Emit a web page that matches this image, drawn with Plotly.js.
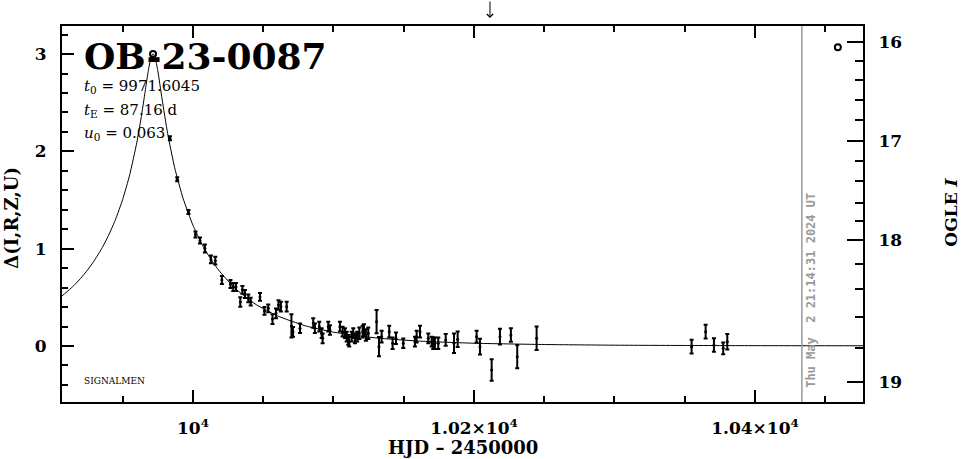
<!DOCTYPE html>
<html><head><meta charset="utf-8">
<script src="https://cdn.plot.ly/plotly-3.0.1.min.js"></script>
<style>html,body{margin:0;padding:0;background:#fff}</style>
</head><body><div id="chart" style="width:965px;height:459px"></div>
<script>
// ---- data ----
const hjd = [9983.6, 9988.8, 9996.8, 10001.8, 10005.0, 10008.5, 10012.8, 10015.9, 10020.6, 10026.7,
  10028.7, 10030.6, 10033.7, 10035.2, 10037.0, 10039.4, 10041.1, 10047.7, 10050.9, 10053.6,
  10056.6, 10059.1, 10060.9, 10062.6, 10066.7, 10070.1, 10071.2, 10076.2, 10085.6, 10086.8,
  10089.9, 10091.6, 10092.3, 10096.3, 10097.5, 10104.6, 10106.5, 10108.2, 10109.4, 10110.5,
  10111.2, 10113.0, 10114.1, 10115.3, 10116.9, 10118.4, 10120.8, 10121.7, 10123.1, 10124.8,
  10130.7, 10132.4, 10134.3, 10139.7, 10142.1, 10144.5, 10149.7, 10158.0, 10159.2, 10161.6,
  10167.5, 10169.9, 10171.0, 10172.2, 10174.6, 10179.9, 10185.8, 10188.4, 10201.9, 10204.3,
  10212.6, 10218.5, 10226.3, 10230.8, 10244.6, 10354.9, 10364.9, 10370.8, 10377.4, 10380.3];
const delta = [2.135, 1.713, 1.377, 1.146, 1.084, 1.002, 0.889, 0.877, 0.678, 0.637,
  0.606, 0.606, 0.452, 0.576, 0.534, 0.490, 0.455, 0.504, 0.360, 0.387,
  0.277, 0.336, 0.421, 0.404, 0.404, 0.206, 0.144, 0.182, 0.236, 0.182,
  0.198, 0.131, 0.079, 0.198, 0.164, 0.198, 0.147, 0.131, 0.096, 0.062,
  0.044, 0.096, 0.131, 0.079, 0.096, 0.131, 0.147, 0.164, 0.113, 0.131,
  0.250, -0.007, 0.096, 0.147, 0.028, 0.079, 0.028, 0.044, 0.096, 0.147,
  0.079, 0.044, 0.028, 0.028, 0.028, 0.062, 0.028, 0.069, 0.096, -0.007,
  -0.247, 0.096, 0.113, -0.110, 0.079, -0.007, 0.147, 0.010, -0.024, 0.044];
const deltaErr = [0.02, 0.02, 0.02, 0.03, 0.03, 0.04, 0.04, 0.04, 0.04, 0.04,
  0.04, 0.04, 0.05, 0.04, 0.04, 0.04, 0.04, 0.04, 0.04, 0.04,
  0.05, 0.05, 0.05, 0.05, 0.05, 0.12, 0.05, 0.05, 0.05, 0.05,
  0.05, 0.05, 0.05, 0.05, 0.05, 0.05, 0.05, 0.05, 0.05, 0.05,
  0.05, 0.05, 0.05, 0.05, 0.05, 0.06, 0.06, 0.06, 0.06, 0.06,
  0.12, 0.10, 0.06, 0.06, 0.06, 0.06, 0.05, 0.05, 0.06, 0.06,
  0.05, 0.05, 0.06, 0.06, 0.06, 0.06, 0.10, 0.08, 0.06, 0.08,
  0.11, 0.08, 0.07, 0.12, 0.12, 0.07, 0.07, 0.07, 0.06, 0.08];

// model curve
const modelHjd = [9900, 9906.8, 9915, 9920, 9925, 9930, 9935, 9940, 9945, 9950, 9955, 9960, 9963, 9966,
  9968, 9970, 9971.6, 9973, 9975, 9978, 9982, 9987, 9993, 10000, 10005, 10010, 10015, 10020,
  10030, 10037.5, 10045, 10060, 10080, 10100, 10130, 10160, 10200, 10250, 10300, 10350, 10400, 10480];
const modelDelta = [0.443, 0.514, 0.618, 0.694, 0.781, 0.882, 1.000, 1.138, 1.304, 1.507, 1.760, 2.088, 2.334, 2.618,
  2.809, 2.959, 3.003, 2.969, 2.828, 2.540, 2.183, 1.832, 1.516, 1.241, 1.086, 0.955, 0.844, 0.749,
  0.593, 0.502, 0.425, 0.310, 0.207, 0.142, 0.083, 0.051, 0.028, 0.015, 0.008, 0.005, 0.003, 0.002];

const circleHjd = [9971.6, 10459];
const circleDelta = [3.00, 3.07];

const xTickVals = [10000, 10200, 10400];
const xTickText = ['10<sup>4</sup>', '1.02\u00d710<sup>4</sup>', '1.04\u00d710<sup>4</sup>'];
const xMinorVals = [9950, 10050, 10100, 10150, 10250, 10300, 10350, 10450];
const yTickVals = [0, 1, 2, 3];
const yTickText = ['0', '1', '2', '3'];
const yMinorVals = [-0.4, -0.2, 0.2, 0.4, 0.6, 0.8, 1.2, 1.4, 1.6, 1.8, 2.2, 2.4, 2.6, 2.8, 3.2];
const magTickVals = [3.127, 2.110, 1.089, -0.370];
const magTickText = ['16', '17', '18', '19'];
const magMinorVals = [2.932, 2.734, 2.528, 2.323, 1.901, 1.691, 1.470, 1.285, 0.843, 0.586, 0.298, -0.021];

const dateLineHjd = 10433.4;
const arrowHjd = 10211.4;
const eventName = 'OB-23-0087';
const paramLines = ['<i>t</i><sub>0</sub> = 9971.6045', '<i>t</i><sub>E</sub> = 87.16 d', '<i>u</i><sub>0</sub> = 0.063'];
const dateText = 'Thu May\u00a0\u00a02 21:14:31 2024 UT';

const xRange = [9906.8, 10476.9];
const yRange = [-0.576, 3.289];

const serif = 'DejaVu Serif';
const traces = [
  {x: modelHjd, y: modelDelta, mode: 'lines', line: {color: '#000', width: 1, shape: 'spline', smoothing: 0.5}, hoverinfo: 'skip'},
  {x: hjd, y: delta, mode: 'markers', marker: {color: '#000', size: 3},
   error_y: {type: 'data', array: deltaErr, visible: true, color: '#000', thickness: 2, width: 2}},
  {x: circleHjd, y: circleDelta, mode: 'markers', marker: {symbol: 'circle-open', size: 6, color: '#000', line: {width: 2, color: '#000'}}},
  {x: [], y: [], yaxis: 'y2', mode: 'markers', hoverinfo: 'skip'}
];

const tickFont = {family: serif, size: 17, color: '#000', weight: 'bold'};
const ann = [
  {xref: 'paper', yref: 'paper', x: 0.025, y: 0.920, xanchor: 'left', yanchor: 'middle', showarrow: false,
   text: eventName, font: {family: serif, size: 36, weight: 'bold', color: '#000'}},
  {xref: 'paper', yref: 'paper', x: 0.025, y: 0.838, xanchor: 'left', yanchor: 'middle', showarrow: false,
   text: paramLines[0], font: {family: serif, size: 15, color: '#000'}},
  {xref: 'paper', yref: 'paper', x: 0.025, y: 0.774, xanchor: 'left', yanchor: 'middle', showarrow: false,
   text: paramLines[1], font: {family: serif, size: 15, color: '#000'}},
  {xref: 'paper', yref: 'paper', x: 0.025, y: 0.715, xanchor: 'left', yanchor: 'middle', showarrow: false,
   text: paramLines[2], font: {family: serif, size: 15, color: '#000'}},
  {xref: 'paper', yref: 'paper', x: 0.025, y: 0.056, xanchor: 'left', yanchor: 'middle', showarrow: false,
   text: 'SIGNALMEN', font: {family: serif, size: 9, color: '#000'}},
  {xref: 'x', yref: 'paper', x: dateLineHjd, xshift: 9, y: 0.298, xanchor: 'center', yanchor: 'middle', showarrow: false,
   textangle: -90, text: dateText, font: {family: 'DejaVu Sans Mono', size: 12, weight: 'bold', color: '#999'}},
  {xref: 'paper', yref: 'paper', x: 1.1105, y: 0.505, xanchor: 'center', yanchor: 'middle', showarrow: false,
   textangle: -90, text: 'OGLE <i>I</i>', font: {family: serif, size: 17, weight: 'bold', color: '#000'}},
  {xref: 'paper', yref: 'paper', x: -0.0624, y: 0.490, xanchor: 'center', yanchor: 'middle', showarrow: false,
   textangle: -90, text: '\u0394(I,R,Z,U)', font: {family: serif, size: 18, weight: 'bold', color: '#000'}},
  {xref: 'paper', yref: 'paper', x: 0.5, y: -0.122, xanchor: 'center', yanchor: 'middle', showarrow: false,
   text: 'HJD \u2013 2450000', font: {family: serif, size: 18, weight: 'bold', color: '#000'}},
  {xref: 'x', yref: 'paper', x: arrowHjd, y: 1.021, ax: 0, ay: -19, axref: 'pixel', ayref: 'pixel', text: '',
   showarrow: true, arrowhead: 4, arrowsize: 1.2, arrowwidth: 1, arrowcolor: '#000'}
];

const layout = {
  width: 965, height: 459,
  margin: {l: 62, r: 102, t: 26, b: 57, pad: 0},
  paper_bgcolor: '#fff', plot_bgcolor: '#fff', showlegend: false,
  font: {family: serif, color: '#000'},
  xaxis: {range: xRange, tickmode: 'array', tickvals: xTickVals, ticktext: xTickText,
    ticks: 'inside', ticklen: 12, tickwidth: 2, tickcolor: '#000',
    minor: {tickmode: 'array', tickvals: xMinorVals, ticks: 'inside', ticklen: 6, tickwidth: 2, tickcolor: '#000', showgrid: false},
    showline: true, linewidth: 2, linecolor: '#000', mirror: 'ticks', showgrid: false, zeroline: false,
    tickfont: tickFont, ticklabelstandoff: 10},
  yaxis: {range: yRange, tickmode: 'array', tickvals: yTickVals, ticktext: yTickText,
    ticks: 'inside', ticklen: 12, tickwidth: 2, tickcolor: '#000',
    minor: {tickmode: 'array', tickvals: yMinorVals, ticks: 'inside', ticklen: 6, tickwidth: 2, tickcolor: '#000', showgrid: false},
    showline: true, linewidth: 2, linecolor: '#000', mirror: false, showgrid: false, zeroline: false,
    tickfont: tickFont, ticklabelstandoff: 10},
  yaxis2: {range: yRange, overlaying: 'y', side: 'right', tickmode: 'array', tickvals: magTickVals, ticktext: magTickText,
    ticks: 'inside', ticklen: 16, tickwidth: 2, tickcolor: '#000',
    minor: {tickmode: 'array', tickvals: magMinorVals, ticks: 'inside', ticklen: 8, tickwidth: 2, tickcolor: '#000', showgrid: false},
    showline: true, linewidth: 2, linecolor: '#000', showgrid: false, zeroline: false,
    tickfont: tickFont, ticklabelstandoff: 10},
  shapes: [{type: 'line', xref: 'x', yref: 'paper', x0: dateLineHjd, x1: dateLineHjd, y0: 0, y1: 1,
    line: {color: '#999', width: 1.5}}],
  annotations: ann
};

Plotly.newPlot('chart', traces, layout, {staticPlot: true, displayModeBar: false});
</script></body></html>
